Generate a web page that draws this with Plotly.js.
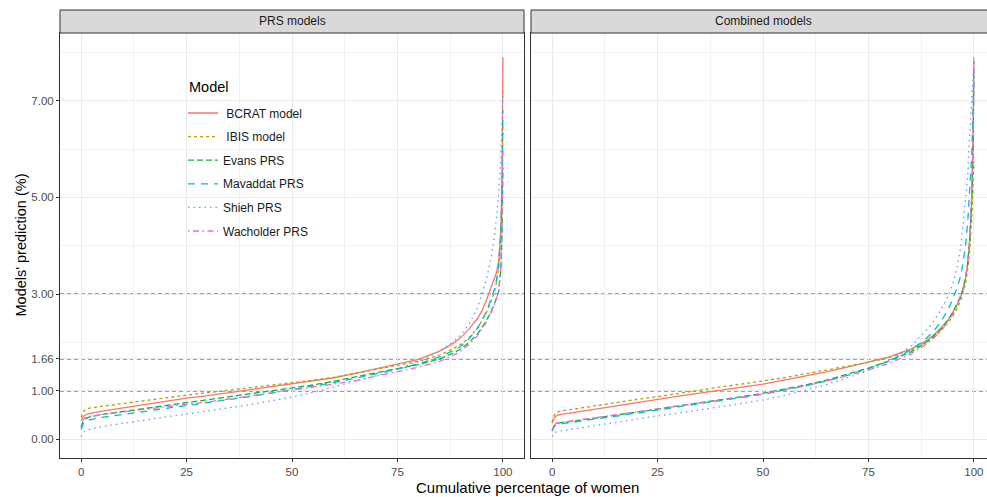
<!DOCTYPE html>
<html>
<head>
<meta charset="utf-8">
<script src="https://cdn.plot.ly/plotly-3.0.1.min.js"></script>
<style>
html, body { margin: 0; padding: 0; overflow: hidden; background: #fff; }
#chart { width: 1000px; height: 497px; }
</style>
</head>
<body>
<div id="chart"></div>
<script>
// ---------- data ----------
const panelTitles = ["PRS models", "Combined models"];
const legendTitle = "Model";
const modelNames = ["\u00a0BCRAT model", "\u00a0IBIS model", "Evans PRS", "Mavaddat PRS", "Shieh PRS", "Wacholder PRS"];
const xPct = [0, 0.5, 1, 2, 5, 10, 15, 20, 25, 30, 35, 40, 45, 50, 55, 60, 65, 70, 75, 80, 85, 88, 90, 92, 94, 95, 96, 97, 98, 98.5, 99, 99.5, 99.8, 100];

// PRS models panel
const prsBCRAT     = [0.38,0.47,0.50,0.53,0.58,0.65,0.71,0.78,0.85,0.90,0.96,1.02,1.08,1.14,1.20,1.27,1.36,1.46,1.55,1.65,1.82,1.97,2.10,2.28,2.50,2.65,2.85,3.08,3.30,3.45,3.70,4.30,5.50,7.90];
const prsIBIS      = [0.45,0.57,0.61,0.64,0.68,0.74,0.80,0.86,0.91,0.96,1.01,1.07,1.12,1.17,1.22,1.28,1.36,1.44,1.52,1.61,1.74,1.86,1.96,2.10,2.30,2.44,2.60,2.80,3.05,3.25,3.55,4.20,5.00,6.50];
const prsEvans     = [0.25,0.38,0.42,0.46,0.51,0.57,0.63,0.69,0.75,0.81,0.87,0.93,0.99,1.05,1.12,1.20,1.29,1.37,1.46,1.54,1.66,1.77,1.87,2.00,2.18,2.30,2.44,2.60,2.80,2.92,3.05,3.50,4.30,5.60];
const prsMavaddat  = [0.20,0.32,0.36,0.40,0.45,0.51,0.57,0.63,0.69,0.75,0.81,0.88,0.95,1.02,1.09,1.17,1.26,1.35,1.45,1.56,1.70,1.82,1.92,2.08,2.30,2.45,2.63,2.85,3.10,3.30,3.60,4.30,5.20,6.80];
const prsShieh     = [0.05,0.13,0.17,0.20,0.26,0.33,0.40,0.46,0.52,0.58,0.64,0.71,0.79,0.87,0.97,1.08,1.19,1.31,1.45,1.60,1.82,2.00,2.15,2.38,2.72,2.98,3.28,3.65,4.20,4.60,5.10,5.80,6.50,7.20];
const prsWacholder = [0.28,0.41,0.44,0.47,0.51,0.56,0.61,0.66,0.72,0.77,0.83,0.89,0.95,1.01,1.07,1.14,1.21,1.30,1.40,1.49,1.61,1.72,1.82,1.96,2.14,2.27,2.41,2.58,2.78,2.92,3.05,3.60,4.50,6.00];

// Combined models panel
const combBCRAT     = [0.33,0.44,0.48,0.51,0.55,0.62,0.69,0.76,0.83,0.89,0.95,1.01,1.07,1.14,1.22,1.30,1.39,1.49,1.59,1.70,1.86,2.00,2.12,2.28,2.48,2.62,2.78,2.98,3.30,3.60,4.10,5.00,6.20,7.85];
const combIBIS      = [0.35,0.50,0.55,0.58,0.62,0.69,0.76,0.82,0.88,0.95,1.02,1.08,1.14,1.20,1.27,1.35,1.43,1.51,1.59,1.69,1.84,1.97,2.08,2.23,2.42,2.55,2.70,2.90,3.20,3.50,3.90,4.60,5.30,5.75];
const combEvans     = [0.18,0.28,0.32,0.34,0.37,0.43,0.50,0.56,0.62,0.69,0.75,0.81,0.88,0.95,1.03,1.12,1.22,1.34,1.47,1.62,1.80,1.96,2.09,2.26,2.48,2.62,2.79,2.98,3.32,3.62,4.10,5.00,6.00,7.50];
const combMavaddat  = [0.17,0.26,0.30,0.32,0.35,0.41,0.48,0.54,0.60,0.67,0.73,0.79,0.86,0.93,1.01,1.10,1.20,1.32,1.46,1.62,1.84,2.03,2.19,2.40,2.70,2.90,3.12,3.42,3.98,4.45,5.10,5.90,6.80,7.80];
const combShieh     = [0.05,0.12,0.15,0.17,0.21,0.28,0.34,0.41,0.48,0.54,0.60,0.67,0.74,0.81,0.90,1.01,1.13,1.27,1.42,1.62,1.92,2.18,2.38,2.65,2.98,3.22,3.55,4.05,4.90,5.40,6.30,7.00,7.50,7.95];
const combWacholder = [0.20,0.29,0.33,0.35,0.38,0.44,0.50,0.56,0.62,0.68,0.74,0.80,0.87,0.94,1.02,1.10,1.20,1.31,1.43,1.57,1.76,1.92,2.05,2.22,2.44,2.58,2.76,2.97,3.30,3.62,4.10,5.10,6.30,7.70];

const xTicks = [0, 25, 50, 75, 100];
const yTickVals = [0, 1, 1.66, 3, 5, 7];
const yTickText = ["0.00", "1.00", "1.66", "3.00", "5.00", "7.00"];
const refLines = [1, 1.66, 3];

// ---------- styling ----------
const colors = ["#F8766D", "#B79F00", "#00BA38", "#00BFC4", "#619CFF", "#F564E3"];
const dashes = ["solid", "3px,3px", "6px,3px", "7px,6px", "1.5px,4px", "1.5px,3.5px,6px,3.5px"];
const FONT = "Liberation Sans, Arial, sans-serif";

const prsSeries = [prsBCRAT, prsIBIS, prsEvans, prsMavaddat, prsShieh, prsWacholder];
const combSeries = [combBCRAT, combIBIS, combEvans, combMavaddat, combShieh, combWacholder];

const traces = [];
[prsSeries, combSeries].forEach((set, p) => {
  set.forEach((ys, i) => {
    traces.push({
      type: "scatter", mode: "lines",
      x: xPct, y: ys,
      xaxis: p === 0 ? "x" : "x2",
      yaxis: p === 0 ? "y" : "y2",
      name: modelNames[i],
      legendgroup: "g" + i,
      showlegend: p === 0,
      line: { color: colors[i], width: 1.3, dash: dashes[i] },
      hoverinfo: "skip"
    });
  });
});

// geometry (pixels)
const W = 1000, H = 497;
const L = 60, R = 5, T = 33, B = 39;
const plotW = W - L - R, plotH = H - T - B;
const leftEnd = (524 - L) / plotW, rightStart = (531 - L) / plotW;
const stripTop = 1 + 23 / plotH;
const px2x = px => (px - L) / plotW;
const py2y = py => (H - B - py) / plotH;

function xAxis(domain) {
  return {
    domain: domain, range: [-5, 105],
    tickvals: xTicks, ticks: "outside", ticklen: 3, tickcolor: "#333", tickwidth: 1,
    tickfont: { family: FONT, size: 11.5, color: "#4d4d4d" },
    showgrid: true, gridcolor: "#ebebeb", gridwidth: 1,
    minor: { tickvals: [12.5, 37.5, 62.5, 87.5], showgrid: true, gridcolor: "#f2f2f2", gridwidth: 1, ticks: "" },
    zeroline: false, showline: true, mirror: true, linecolor: "#333", linewidth: 1
  };
}
function yAxis(anchor, labels) {
  return {
    anchor: anchor, range: [-0.39, 8.4],
    tickmode: "array", tickvals: yTickVals, ticktext: yTickText,
    ticks: labels ? "outside" : "", ticklen: 3, tickcolor: "#333", tickwidth: 1,
    showticklabels: labels,
    tickfont: { family: FONT, size: 11.5, color: "#4d4d4d" },
    showgrid: true, gridcolor: "#ebebeb", gridwidth: 1,
    minor: { tickvals: [2, 4, 6, 8], showgrid: true, gridcolor: "#f2f2f2", gridwidth: 1, ticks: "" },
    zeroline: false, showline: true, mirror: true, linecolor: "#333", linewidth: 1
  };
}

const shapes = [];
const annotations = [];
["x", "x2"].forEach((xa, p) => {
  const ya = p === 0 ? "y" : "y2";
  refLines.forEach(v => {
    shapes.push({
      type: "line", xref: xa + " domain", x0: 0, x1: 1, yref: ya, y0: v, y1: v,
      line: { color: "#444", width: 1.2, dash: "4px,3px" }, layer: "below"
    });
  });
  shapes.push({
    type: "rect", xref: xa + " domain", x0: 0, x1: 1, yref: "paper", y0: 1, y1: stripTop,
    fillcolor: "#d9d9d9", line: { color: "#333", width: 1 }
  });
  annotations.push({
    xref: xa + " domain", x: 0.5, yref: "paper", y: (1 + stripTop) / 2,
    text: panelTitles[p], showarrow: false, xanchor: "center", yanchor: "middle",
    font: { family: FONT, size: 12, color: "#1a1a1a" }
  });
});
annotations.push({
  xref: "paper", x: 0.5, yref: "paper", y: py2y(487),
  text: "Cumulative percentage of women", showarrow: false, xanchor: "center", yanchor: "middle",
  font: { family: FONT, size: 15, color: "#000" }
});
annotations.push({
  xref: "paper", x: px2x(20), yref: "paper", y: 0.5, textangle: -90,
  text: "Models' prediction (%)", showarrow: false, xanchor: "center", yanchor: "middle",
  font: { family: FONT, size: 14.5, color: "#000" }
});

const legendLeft = 180, legendTop = 72;
// white legend background box (legend keys drawn by the plotly legend below)
shapes.push({
  type: "rect", xref: "paper", yref: "paper",
  x0: px2x(legendLeft), x1: px2x(316), y0: py2y(legendTop), y1: py2y(246),
  fillcolor: "#fff", line: { width: 0 }, layer: "below"
});
annotations.push({
  xref: "paper", x: px2x(187), yref: "paper", y: py2y(87),
  text: legendTitle, showarrow: false, xanchor: "left", yanchor: "middle",
  font: { family: FONT, size: 14.5, color: "#000" }
});

const layout = {
  width: W, height: H,
  margin: { l: L, r: R, t: T, b: B, pad: 0 },
  paper_bgcolor: "#fff", plot_bgcolor: "#fff",
  font: { family: FONT },
  showlegend: true,
  legend: {
    x: px2x(legendLeft + 3), xanchor: "left",
    y: py2y(98.5), yanchor: "top",
    bgcolor: "rgba(0,0,0,0)", borderwidth: 0,
    font: { family: FONT, size: 12, color: "#1a1a1a" },
    traceorder: "grouped", tracegroupgap: 4.6, itemwidth: 30
  },
  xaxis: xAxis([0, leftEnd]),
  xaxis2: xAxis([rightStart, 1]),
  yaxis: yAxis("x", true),
  yaxis2: yAxis("x2", false),
  shapes: shapes,
  annotations: annotations
};
layout.yaxis2.matches = "y";

Plotly.newPlot("chart", traces, layout, { displayModeBar: false, staticPlot: true });
</script>
</body>
</html>
